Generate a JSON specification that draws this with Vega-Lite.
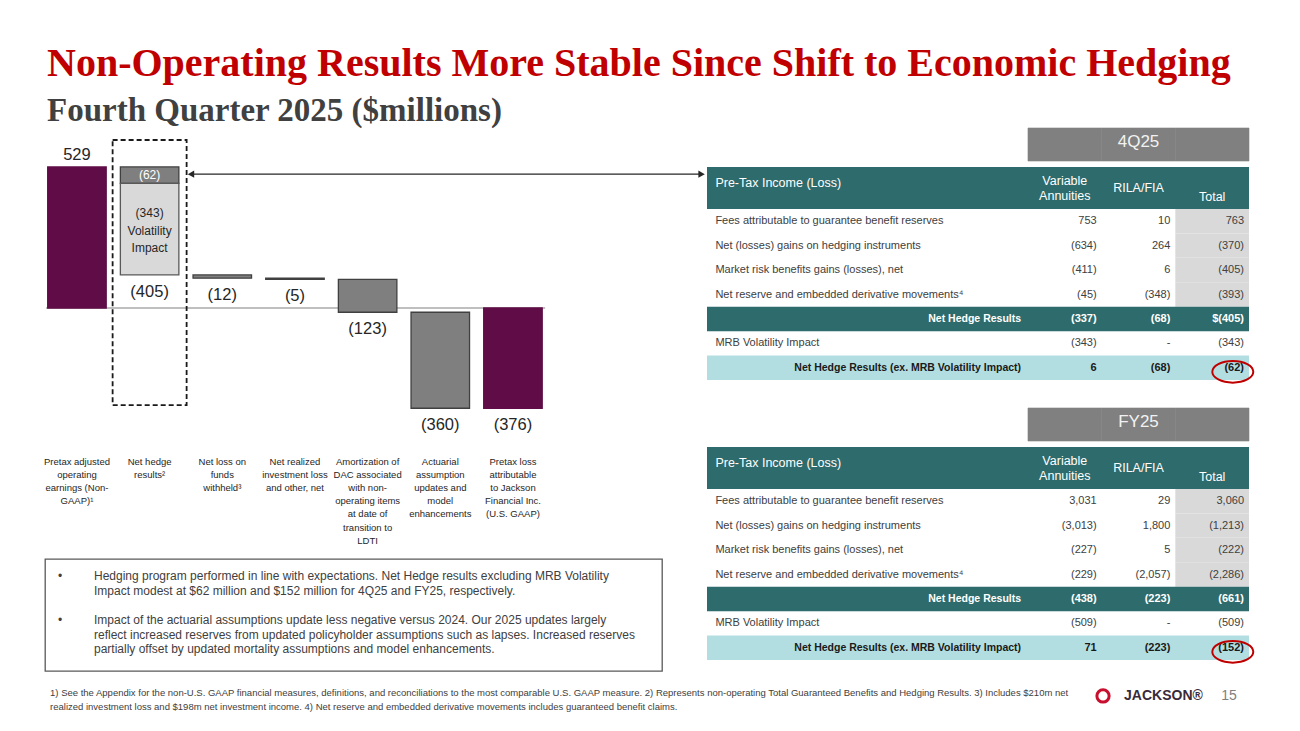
{
  "$schema": "https://vega.github.io/schema/vega-lite/v6.json",
  "background": "white",
  "padding": {"top": 43, "left": 43, "right": 5, "bottom": 5},
  "title": {
    "text": "Non-Operating Results More Stable Since Shift to Economic Hedging",
    "subtitle": "Fourth Quarter 2025 ($millions)",
    "anchor": "start", "frame": "group", "dx": 2, "offset": 0,
    "font": "Liberation Serif", "fontSize": 40, "fontWeight": "bold", "color": "#c00000",
    "subtitleFont": "Liberation Serif", "subtitleFontSize": 33, "subtitleFontWeight": "bold",
    "subtitleColor": "#404040", "subtitlePadding": 11
  },
  "config": {"view": {"stroke": null}},
  "datasets": {
    "waterfall": [
      {"step": "Pretax adjusted|operating|earnings (Non-|GAAP)¹", "lo": 0, "hi": 529, "kind": "total", "above": "529"},
      {"step": "Net hedge|results²", "lo": 467, "hi": 529, "kind": "core", "inside": "(62)"},
      {"step": "Net hedge|results²", "lo": 124, "hi": 467, "kind": "volatility", "inside": "(343)|Volatility|Impact", "below": "(405)"},
      {"step": "Net loss on|funds|withheld³", "lo": 112, "hi": 124, "kind": "change", "below": "(12)"},
      {"step": "Net realized|investment loss|and other, net", "lo": 107, "hi": 112, "kind": "change", "below": "(5)"},
      {"step": "Amortization of|DAC associated|with non-|operating items|at date of|transition to|LDTI", "lo": -16, "hi": 107, "kind": "change", "below": "(123)"},
      {"step": "Actuarial|assumption|updates and|model|enhancements", "lo": -376, "hi": -16, "kind": "change", "below": "(360)"},
      {"step": "Pretax loss|attributable|to Jackson|Financial Inc.|(U.S. GAAP)", "lo": -376, "hi": 0, "kind": "total", "below": "(376)"}
    ],
    "notes": [
      {"line": "1", "bullet": "•", "text": "Hedging program performed in line with expectations.  Net Hedge results excluding MRB Volatility"},
      {"line": "2", "text": "Impact modest at $62 million and $152 million for 4Q25 and FY25, respectively."},
      {"line": "4", "bullet": "•", "text": "Impact of the actuarial assumptions update less negative versus 2024.  Our 2025 updates largely"},
      {"line": "5", "text": "reflect increased reserves from updated policyholder assumptions such as lapses.  Increased reserves"},
      {"line": "6", "text": "partially offset by updated mortality assumptions and model enhancements."}
    ],
    "periods": [
      {"period": "4Q25", "col": "VA"}, {"period": "4Q25", "col": "RILA"}, {"period": "4Q25", "col": "Total"},
      {"period": "FY25", "col": "VA"}, {"period": "FY25", "col": "RILA"}, {"period": "FY25", "col": "Total"}
    ],
    "tableHeader": [
      {"col": "L1", "text": "Pre-Tax Income (Loss)"},
      {"col": "VA", "text": "Variable|Annuities"},
      {"col": "RILA", "text": "RILA/FIA"},
      {"col": "Total", "text": "Total"}
    ],
    "hedge": [
      {"period": "4Q25", "row": "r1", "kind": "item", "label": "Fees attributable to guarantee benefit reserves", "VA": "753", "RILA": "10", "Total": "763"},
      {"period": "4Q25", "row": "r2", "kind": "item", "label": "Net (losses) gains on hedging instruments", "VA": "(634)", "RILA": "264", "Total": "(370)"},
      {"period": "4Q25", "row": "r3", "kind": "item", "label": "Market risk benefits gains (losses), net", "VA": "(411)", "RILA": "6", "Total": "(405)"},
      {"period": "4Q25", "row": "r4", "kind": "item", "label": "Net reserve and embedded derivative movements⁴", "VA": "(45)", "RILA": "(348)", "Total": "(393)"},
      {"period": "4Q25", "row": "r5", "kind": "subtotal", "label": "Net Hedge Results", "VA": "(337)", "RILA": "(68)", "Total": "$(405)"},
      {"period": "4Q25", "row": "r6", "kind": "plain", "label": "MRB Volatility Impact", "VA": "(343)", "RILA": "-", "Total": "(343)"},
      {"period": "4Q25", "row": "r7", "kind": "result", "label": "Net Hedge Results (ex. MRB Volatility Impact)", "VA": "6", "RILA": "(68)", "Total": "(62)"},
      {"period": "FY25", "row": "r1", "kind": "item", "label": "Fees attributable to guarantee benefit reserves", "VA": "3,031", "RILA": "29", "Total": "3,060"},
      {"period": "FY25", "row": "r2", "kind": "item", "label": "Net (losses) gains on hedging instruments", "VA": "(3,013)", "RILA": "1,800", "Total": "(1,213)"},
      {"period": "FY25", "row": "r3", "kind": "item", "label": "Market risk benefits gains (losses), net", "VA": "(227)", "RILA": "5", "Total": "(222)"},
      {"period": "FY25", "row": "r4", "kind": "item", "label": "Net reserve and embedded derivative movements⁴", "VA": "(229)", "RILA": "(2,057)", "Total": "(2,286)"},
      {"period": "FY25", "row": "r5", "kind": "subtotal", "label": "Net Hedge Results", "VA": "(438)", "RILA": "(223)", "Total": "(661)"},
      {"period": "FY25", "row": "r6", "kind": "plain", "label": "MRB Volatility Impact", "VA": "(509)", "RILA": "-", "Total": "(509)"},
      {"period": "FY25", "row": "r7", "kind": "result", "label": "Net Hedge Results (ex. MRB Volatility Impact)", "VA": "71", "RILA": "(223)", "Total": "(152)"}
    ],
    "footer": [
      {"part": "note", "slot": "fn", "line": "1", "text": "1) See the Appendix for the non-U.S. GAAP financial measures, definitions, and reconciliations to the most comparable U.S. GAAP measure. 2) Represents non-operating Total Guaranteed Benefits and Hedging Results. 3) Includes $210m net"},
      {"part": "note", "slot": "fn", "line": "2", "text": "realized investment loss and $198m net investment income.  4) Net reserve and embedded derivative movements includes guaranteed benefit claims."},
      {"part": "brand", "slot": "logo", "line": "1", "text": "JACKSON®"},
      {"part": "page", "slot": "page", "line": "1", "text": "15"}
    ]
  },
  "spacing": 11,
  "vconcat": [
    {
      "spacing": 0,
      "hconcat": [
        {
          "spacing": 13,
          "vconcat": [
            {
              "width": 662, "height": 288,
              "data": {"name": "waterfall"},
              "encoding": {
                "x": {
                  "field": "step", "type": "nominal", "sort": null, "title": null,
                  "scale": {
                    "type": "band",
                    "domain": ["Pretax adjusted|operating|earnings (Non-|GAAP)¹", "Net hedge|results²", "Net loss on|funds|withheld³", "Net realized|investment loss|and other, net", "Amortization of|DAC associated|with non-|operating items|at date of|transition to|LDTI", "Actuarial|assumption|updates and|model|enhancements", "Pretax loss|attributable|to Jackson|Financial Inc.|(U.S. GAAP)", "_a", "_b"],
                    "paddingInner": 0.195, "paddingOuter": 0.1525, "align": 0.122
                  },
                  "axis": {
                    "orient": "bottom", "domain": false, "ticks": false, "grid": false,
                    "labelPadding": 40, "labelFont": "Liberation Sans",
                    "labelFontSize": 9.5, "labelColor": "#262626", "labelLineHeight": 13.2,
                    "labelAngle": 0, "labelOverlap": false, "labelLimit": 0, "labelBaseline": "top",
                    "labelExpr": "indexof(datum.value, '_') == 0 ? '' : split(datum.value, '|')"
                  }
                }
              },
              "layer": [
                {
                  "data": {"values": [{"ref": "zero line"}]},
                  "mark": {"type": "rule", "color": "#bfbfbf", "strokeWidth": 2},
                  "encoding": {
                    "x": {"datum": "Pretax adjusted|operating|earnings (Non-|GAAP)¹", "bandPosition": -0.03, "title": null},
                    "x2": {"datum": "Pretax loss|attributable|to Jackson|Financial Inc.|(U.S. GAAP)", "bandPosition": 1.05},
                    "y": {"datum": 0, "axis": null, "title": null}
                  }
                },
                {
                  "mark": {"type": "bar", "strokeWidth": 1.3},
                  "encoding": {
                    "y": {"field": "hi", "type": "quantitative", "scale": {"domain": [-405, 675], "nice": false, "zero": false}, "axis": null, "title": null},
                    "y2": {"field": "lo"},
                    "fill": {"field": "kind", "type": "nominal", "scale": {"domain": ["total", "core", "volatility", "change"], "range": ["#600c47", "#7f7f7f", "#d9d9d9", "#7f7f7f"]}, "legend": null},
                    "stroke": {"field": "kind", "type": "nominal", "scale": {"domain": ["total", "core", "volatility", "change"], "range": ["#600c47", "#404040", "#595959", "#404040"]}, "legend": null}
                  }
                },
                {
                  "data": {"values": [{"ref": "net hedge breakdown"}]},
                  "mark": {"type": "rect", "fill": "transparent", "stroke": "#1a1a1a", "strokeWidth": 1.8, "strokeDash": [5, 3], "width": {"band": 1.265}},
                  "encoding": {
                    "x": {"datum": "Net hedge|results²", "title": null},
                    "y": {"datum": 630, "axis": null, "title": null},
                    "y2": {"datum": -364}
                  }
                },
                {
                  "data": {"values": [{"ref": "arrow"}]},
                  "mark": {"type": "rule", "color": "#262626", "strokeWidth": 1.2},
                  "encoding": {
                    "x": {"datum": "Net hedge|results²", "bandPosition": 1.224, "title": null},
                    "x2": {"datum": "_b", "bandPosition": 1.214},
                    "y": {"datum": 502, "axis": null, "title": null}
                  }
                },
                {
                  "data": {"values": [{"ref": "arrow"}]},
                  "mark": {"type": "point", "shape": "triangle-left", "filled": true, "color": "#262626", "size": 55, "opacity": 1},
                  "encoding": {
                    "x": {"datum": "Net hedge|results²", "bandPosition": 1.207, "title": null},
                    "y": {"datum": 502, "axis": null, "title": null}
                  }
                },
                {
                  "data": {"values": [{"ref": "arrow"}]},
                  "mark": {"type": "point", "shape": "triangle-right", "filled": true, "color": "#262626", "size": 55, "opacity": 1},
                  "encoding": {
                    "x": {"datum": "_b", "bandPosition": 1.24, "title": null},
                    "y": {"datum": 502, "axis": null, "title": null}
                  }
                },
                {
                  "transform": [{"filter": "datum.above"}],
                  "mark": {"type": "text", "font": "Liberation Sans", "fontSize": 16.5, "color": "#262626", "baseline": "middle", "dy": -12},
                  "encoding": {"y": {"field": "hi", "type": "quantitative", "axis": null}, "text": {"field": "above", "type": "nominal"}}
                },
                {
                  "transform": [{"filter": "datum.below"}],
                  "mark": {"type": "text", "font": "Liberation Sans", "fontSize": 16.5, "color": "#262626", "baseline": "middle", "dy": 17},
                  "encoding": {"y": {"field": "lo", "type": "quantitative", "axis": null}, "text": {"field": "below", "type": "nominal"}}
                },
                {
                  "transform": [{"filter": "datum.kind == 'core'"}],
                  "mark": {"type": "text", "font": "Liberation Sans", "fontSize": 12, "color": "white", "baseline": "middle", "dy": 8},
                  "encoding": {"y": {"field": "hi", "type": "quantitative", "axis": null}, "text": {"field": "inside", "type": "nominal"}}
                },
                {
                  "transform": [{"filter": "datum.kind == 'volatility'"}],
                  "mark": {"type": "text", "font": "Liberation Sans", "fontSize": 12, "color": "#262626", "baseline": "top", "dy": 25, "lineBreak": "|", "lineHeight": 17.5},
                  "encoding": {"y": {"field": "hi", "type": "quantitative", "axis": null}, "text": {"field": "inside", "type": "nominal"}}
                }
              ]
            },
            {
              "width": 617, "height": 112,
              "view": {"stroke": "#595959", "strokeWidth": 1.3},
              "data": {"name": "notes"},
              "encoding": {
                "y": {"field": "line", "type": "ordinal", "scale": {"type": "point", "domain": ["t0", "1", "2", "3", "4", "5", "6", "t7"], "padding": 0.31, "align": 0.25}, "axis": null, "title": null}
              },
              "layer": [
                {
                  "transform": [{"filter": "datum.bullet"}],
                  "mark": {"type": "text", "font": "Liberation Sans", "fontSize": 12, "color": "#404040"},
                  "encoding": {
                    "x": {"datum": "bullet", "bandPosition": 0.4376, "scale": {"type": "band", "domain": ["bullet", "text", "n3", "n4", "n5", "n6", "n7", "n8", "n9", "n10", "n11", "n12", "n13", "n14", "n15", "n16", "n17", "n18"], "paddingInner": 0, "paddingOuter": 0}, "axis": null, "title": null},
                    "text": {"field": "bullet", "type": "nominal"}
                  }
                },
                {
                  "mark": {"type": "text", "align": "left", "font": "Liberation Sans", "fontSize": 12, "color": "#404040"},
                  "encoding": {
                    "x": {"datum": "text", "bandPosition": 0.429, "scale": {"type": "band", "domain": ["bullet", "text", "n3", "n4", "n5", "n6", "n7", "n8", "n9", "n10", "n11", "n12", "n13", "n14", "n15", "n16", "n17", "n18"], "paddingInner": 0, "paddingOuter": 0}, "axis": null, "title": null},
                    "text": {"field": "text", "type": "nominal"}
                  }
                }
              ]
            }
          ]
        },
        {
          "spacing": 20,
          "vconcat": [
            {
              "spacing": 5,
              "vconcat": [
                {
                  "width": 542, "height": 33,
                  "data": {"name": "periods"},
                  "transform": [{"filter": "datum.period == '4Q25'"}],
                  "layer": [
                    {
                      "mark": {"type": "rect", "color": "#808080", "stroke": "#808080", "strokeWidth": 0.6},
                      "encoding": {"x": {"field": "col", "type": "nominal", "scale": {"type": "band", "domain": ["L1", "L2", "L3", "L4", "VA", "RILA", "Total"], "paddingInner": 0, "paddingOuter": 0.1786, "align": 1}, "axis": null, "title": null}}
                    },
                    {
                      "transform": [{"filter": "datum.col == 'RILA'"}],
                      "mark": {"type": "text", "font": "Liberation Sans", "fontSize": 17, "color": "#f2f2f2", "dy": -3},
                      "encoding": {
                        "x": {"field": "col", "type": "nominal", "scale": {"type": "band", "domain": ["L1", "L2", "L3", "L4", "VA", "RILA", "Total"], "paddingInner": 0, "paddingOuter": 0.1786, "align": 1}, "axis": null, "title": null},
                        "text": {"field": "period", "type": "nominal"}
                      }
                    }
                  ]
                },
                {
                  "spacing": 0,
                  "vconcat": [
                    {
                      "width": 542, "height": 42,
                      "view": {"fill": "#2e6b6c"},
                      "data": {"name": "tableHeader"},
                      "layer": [
                        {
                          "transform": [{"filter": "datum.col == 'L1'"}],
                          "mark": {"type": "text", "align": "left", "font": "Liberation Sans", "fontSize": 12.5, "color": "white", "dx": -18, "dy": -5},
                          "encoding": {
                            "x": {"datum": "L1", "bandPosition": 0.001, "scale": {"type": "band", "domain": ["L1", "L2", "L3", "L4", "VA", "RILA", "Total"], "paddingInner": 0, "paddingOuter": 0.1786, "align": 1}, "axis": null, "title": null},
                            "text": {"field": "text", "type": "nominal"}
                          }
                        },
                        {
                          "transform": [{"filter": "datum.col == 'VA'"}],
                          "mark": {"type": "text", "font": "Liberation Sans", "fontSize": 12.5, "color": "white", "lineBreak": "|", "lineHeight": 15, "dy": -7},
                          "encoding": {
                            "x": {"datum": "VA", "bandPosition": 0.5, "scale": {"type": "band", "domain": ["L1", "L2", "L3", "L4", "VA", "RILA", "Total"], "paddingInner": 0, "paddingOuter": 0.1786, "align": 1}, "axis": null, "title": null},
                            "text": {"field": "text", "type": "nominal"}
                          }
                        },
                        {
                          "transform": [{"filter": "datum.col == 'RILA'"}],
                          "mark": {"type": "text", "font": "Liberation Sans", "fontSize": 12.5, "color": "white"},
                          "encoding": {
                            "x": {"datum": "RILA", "bandPosition": 0.5, "scale": {"type": "band", "domain": ["L1", "L2", "L3", "L4", "VA", "RILA", "Total"], "paddingInner": 0, "paddingOuter": 0.1786, "align": 1}, "axis": null, "title": null},
                            "text": {"field": "text", "type": "nominal"}
                          }
                        },
                        {
                          "transform": [{"filter": "datum.col == 'Total'"}],
                          "mark": {"type": "text", "font": "Liberation Sans", "fontSize": 12.5, "color": "white", "dy": 9},
                          "encoding": {
                            "x": {"datum": "Total", "bandPosition": 0.5, "scale": {"type": "band", "domain": ["L1", "L2", "L3", "L4", "VA", "RILA", "Total"], "paddingInner": 0, "paddingOuter": 0.1786, "align": 1}, "axis": null, "title": null},
                            "text": {"field": "text", "type": "nominal"}
                          }
                        }
                      ]
                    },
                    {
                      "width": 542, "height": 171,
                      "data": {"name": "hedge"},
                      "transform": [{"filter": "datum.period == '4Q25'"}],
                      "encoding": {
                        "y": {"field": "row", "type": "nominal", "scale": {"type": "band", "domain": ["r1", "r2", "r3", "r4", "r5", "r6", "r7"], "paddingInner": 0, "paddingOuter": 0}, "axis": null, "title": null}
                      },
                      "layer": [
                        {
                          "transform": [{"filter": "datum.kind == 'item'"}],
                          "mark": {"type": "rect", "color": "#d9d9d9"},
                          "encoding": {"x": {"datum": "Total", "scale": {"type": "band", "domain": ["L1", "L2", "L3", "L4", "VA", "RILA", "Total"], "paddingInner": 0, "paddingOuter": 0.1786, "align": 1}, "axis": null, "title": null}}
                        },
                        {
                          "transform": [{"filter": "datum.kind == 'subtotal'"}],
                          "mark": {"type": "rect", "color": "#2e6b6c"}
                        },
                        {
                          "transform": [{"filter": "datum.kind == 'result'"}],
                          "mark": {"type": "rect", "color": "#b3dee1"}
                        },
                        {
                          "transform": [{"filter": "datum.kind == 'item' || datum.kind == 'plain'"}],
                          "mark": {"type": "text", "align": "left", "font": "Liberation Sans", "fontSize": 11, "color": "#404040", "dx": -18},
                          "encoding": {
                            "x": {"datum": "L1", "bandPosition": 0.001, "scale": {"type": "band", "domain": ["L1", "L2", "L3", "L4", "VA", "RILA", "Total"], "paddingInner": 0, "paddingOuter": 0.1786, "align": 1}, "axis": null, "title": null},
                            "text": {"field": "label", "type": "nominal"}
                          }
                        },
                        {
                          "transform": [{"filter": "datum.kind == 'subtotal'"}],
                          "mark": {"type": "text", "align": "right", "font": "Liberation Sans", "fontSize": 10.5, "fontWeight": "bold", "color": "white", "dx": -7},
                          "encoding": {
                            "x": {"datum": "VA", "bandPosition": 0.001, "scale": {"type": "band", "domain": ["L1", "L2", "L3", "L4", "VA", "RILA", "Total"], "paddingInner": 0, "paddingOuter": 0.1786, "align": 1}, "axis": null, "title": null},
                            "text": {"field": "label", "type": "nominal"}
                          }
                        },
                        {
                          "transform": [{"filter": "datum.kind == 'result'"}],
                          "mark": {"type": "text", "align": "right", "font": "Liberation Sans", "fontSize": 10.5, "fontWeight": "bold", "color": "#1a1a1a", "dx": -7},
                          "encoding": {
                            "x": {"datum": "VA", "bandPosition": 0.001, "scale": {"type": "band", "domain": ["L1", "L2", "L3", "L4", "VA", "RILA", "Total"], "paddingInner": 0, "paddingOuter": 0.1786, "align": 1}, "axis": null, "title": null},
                            "text": {"field": "label", "type": "nominal"}
                          }
                        },
                        {
                          "transform": [{"filter": "datum.kind == 'item' || datum.kind == 'plain'"}, {"fold": ["VA", "RILA", "Total"], "as": ["col", "val"]}],
                          "mark": {"type": "text", "align": "right", "font": "Liberation Sans", "fontSize": 11, "color": "#404040", "dx": -5},
                          "encoding": {
                            "x": {"field": "col", "type": "nominal", "bandPosition": 1, "scale": {"type": "band", "domain": ["L1", "L2", "L3", "L4", "VA", "RILA", "Total"], "paddingInner": 0, "paddingOuter": 0.1786, "align": 1}, "axis": null, "title": null},
                            "text": {"field": "val", "type": "nominal"}
                          }
                        },
                        {
                          "transform": [{"filter": "datum.kind == 'subtotal'"}, {"fold": ["VA", "RILA", "Total"], "as": ["col", "val"]}],
                          "mark": {"type": "text", "align": "right", "font": "Liberation Sans", "fontSize": 11, "fontWeight": "bold", "color": "white", "dx": -5},
                          "encoding": {
                            "x": {"field": "col", "type": "nominal", "bandPosition": 1, "scale": {"type": "band", "domain": ["L1", "L2", "L3", "L4", "VA", "RILA", "Total"], "paddingInner": 0, "paddingOuter": 0.1786, "align": 1}, "axis": null, "title": null},
                            "text": {"field": "val", "type": "nominal"}
                          }
                        },
                        {
                          "transform": [{"filter": "datum.kind == 'result'"}, {"fold": ["VA", "RILA", "Total"], "as": ["col", "val"]}],
                          "mark": {"type": "text", "align": "right", "font": "Liberation Sans", "fontSize": 11, "fontWeight": "bold", "color": "#1a1a1a", "dx": -5},
                          "encoding": {
                            "x": {"field": "col", "type": "nominal", "bandPosition": 1, "scale": {"type": "band", "domain": ["L1", "L2", "L3", "L4", "VA", "RILA", "Total"], "paddingInner": 0, "paddingOuter": 0.1786, "align": 1}, "axis": null, "title": null},
                            "text": {"field": "val", "type": "nominal"}
                          }
                        },
                        {
                          "transform": [{"filter": "datum.kind == 'result'"}],
                          "mark": {"type": "point", "shape": "M-1,0A1,0.53,0,1,1,1,0A1,0.53,0,1,1,-1,0Z", "size": 1681, "filled": false, "stroke": "#c00000", "strokeWidth": 2, "opacity": 1, "yOffset": 4},
                          "encoding": {
                            "x": {"datum": "Total", "bandPosition": 0.78, "scale": {"type": "band", "domain": ["L1", "L2", "L3", "L4", "VA", "RILA", "Total"], "paddingInner": 0, "paddingOuter": 0.1786, "align": 1}, "axis": null, "title": null}
                          }
                        }
                      ]
                    }
                  ]
                }
              ]
            },
            {
              "spacing": 5,
              "vconcat": [
                {
                  "width": 542, "height": 33,
                  "data": {"name": "periods"},
                  "transform": [{"filter": "datum.period == 'FY25'"}],
                  "layer": [
                    {
                      "mark": {"type": "rect", "color": "#808080", "stroke": "#808080", "strokeWidth": 0.6},
                      "encoding": {"x": {"field": "col", "type": "nominal", "scale": {"type": "band", "domain": ["L1", "L2", "L3", "L4", "VA", "RILA", "Total"], "paddingInner": 0, "paddingOuter": 0.1786, "align": 1}, "axis": null, "title": null}}
                    },
                    {
                      "transform": [{"filter": "datum.col == 'RILA'"}],
                      "mark": {"type": "text", "font": "Liberation Sans", "fontSize": 17, "color": "#f2f2f2", "dy": -3},
                      "encoding": {
                        "x": {"field": "col", "type": "nominal", "scale": {"type": "band", "domain": ["L1", "L2", "L3", "L4", "VA", "RILA", "Total"], "paddingInner": 0, "paddingOuter": 0.1786, "align": 1}, "axis": null, "title": null},
                        "text": {"field": "period", "type": "nominal"}
                      }
                    }
                  ]
                },
                {
                  "spacing": 0,
                  "vconcat": [
                    {
                      "width": 542, "height": 42,
                      "view": {"fill": "#2e6b6c"},
                      "data": {"name": "tableHeader"},
                      "layer": [
                        {
                          "transform": [{"filter": "datum.col == 'L1'"}],
                          "mark": {"type": "text", "align": "left", "font": "Liberation Sans", "fontSize": 12.5, "color": "white", "dx": -18, "dy": -5},
                          "encoding": {
                            "x": {"datum": "L1", "bandPosition": 0.001, "scale": {"type": "band", "domain": ["L1", "L2", "L3", "L4", "VA", "RILA", "Total"], "paddingInner": 0, "paddingOuter": 0.1786, "align": 1}, "axis": null, "title": null},
                            "text": {"field": "text", "type": "nominal"}
                          }
                        },
                        {
                          "transform": [{"filter": "datum.col == 'VA'"}],
                          "mark": {"type": "text", "font": "Liberation Sans", "fontSize": 12.5, "color": "white", "lineBreak": "|", "lineHeight": 15, "dy": -7},
                          "encoding": {
                            "x": {"datum": "VA", "bandPosition": 0.5, "scale": {"type": "band", "domain": ["L1", "L2", "L3", "L4", "VA", "RILA", "Total"], "paddingInner": 0, "paddingOuter": 0.1786, "align": 1}, "axis": null, "title": null},
                            "text": {"field": "text", "type": "nominal"}
                          }
                        },
                        {
                          "transform": [{"filter": "datum.col == 'RILA'"}],
                          "mark": {"type": "text", "font": "Liberation Sans", "fontSize": 12.5, "color": "white"},
                          "encoding": {
                            "x": {"datum": "RILA", "bandPosition": 0.5, "scale": {"type": "band", "domain": ["L1", "L2", "L3", "L4", "VA", "RILA", "Total"], "paddingInner": 0, "paddingOuter": 0.1786, "align": 1}, "axis": null, "title": null},
                            "text": {"field": "text", "type": "nominal"}
                          }
                        },
                        {
                          "transform": [{"filter": "datum.col == 'Total'"}],
                          "mark": {"type": "text", "font": "Liberation Sans", "fontSize": 12.5, "color": "white", "dy": 9},
                          "encoding": {
                            "x": {"datum": "Total", "bandPosition": 0.5, "scale": {"type": "band", "domain": ["L1", "L2", "L3", "L4", "VA", "RILA", "Total"], "paddingInner": 0, "paddingOuter": 0.1786, "align": 1}, "axis": null, "title": null},
                            "text": {"field": "text", "type": "nominal"}
                          }
                        }
                      ]
                    },
                    {
                      "width": 542, "height": 171,
                      "data": {"name": "hedge"},
                      "transform": [{"filter": "datum.period == 'FY25'"}],
                      "encoding": {
                        "y": {"field": "row", "type": "nominal", "scale": {"type": "band", "domain": ["r1", "r2", "r3", "r4", "r5", "r6", "r7"], "paddingInner": 0, "paddingOuter": 0}, "axis": null, "title": null}
                      },
                      "layer": [
                        {
                          "transform": [{"filter": "datum.kind == 'item'"}],
                          "mark": {"type": "rect", "color": "#d9d9d9"},
                          "encoding": {"x": {"datum": "Total", "scale": {"type": "band", "domain": ["L1", "L2", "L3", "L4", "VA", "RILA", "Total"], "paddingInner": 0, "paddingOuter": 0.1786, "align": 1}, "axis": null, "title": null}}
                        },
                        {
                          "transform": [{"filter": "datum.kind == 'subtotal'"}],
                          "mark": {"type": "rect", "color": "#2e6b6c"}
                        },
                        {
                          "transform": [{"filter": "datum.kind == 'result'"}],
                          "mark": {"type": "rect", "color": "#b3dee1"}
                        },
                        {
                          "transform": [{"filter": "datum.kind == 'item' || datum.kind == 'plain'"}],
                          "mark": {"type": "text", "align": "left", "font": "Liberation Sans", "fontSize": 11, "color": "#404040", "dx": -18},
                          "encoding": {
                            "x": {"datum": "L1", "bandPosition": 0.001, "scale": {"type": "band", "domain": ["L1", "L2", "L3", "L4", "VA", "RILA", "Total"], "paddingInner": 0, "paddingOuter": 0.1786, "align": 1}, "axis": null, "title": null},
                            "text": {"field": "label", "type": "nominal"}
                          }
                        },
                        {
                          "transform": [{"filter": "datum.kind == 'subtotal'"}],
                          "mark": {"type": "text", "align": "right", "font": "Liberation Sans", "fontSize": 10.5, "fontWeight": "bold", "color": "white", "dx": -7},
                          "encoding": {
                            "x": {"datum": "VA", "bandPosition": 0.001, "scale": {"type": "band", "domain": ["L1", "L2", "L3", "L4", "VA", "RILA", "Total"], "paddingInner": 0, "paddingOuter": 0.1786, "align": 1}, "axis": null, "title": null},
                            "text": {"field": "label", "type": "nominal"}
                          }
                        },
                        {
                          "transform": [{"filter": "datum.kind == 'result'"}],
                          "mark": {"type": "text", "align": "right", "font": "Liberation Sans", "fontSize": 10.5, "fontWeight": "bold", "color": "#1a1a1a", "dx": -7},
                          "encoding": {
                            "x": {"datum": "VA", "bandPosition": 0.001, "scale": {"type": "band", "domain": ["L1", "L2", "L3", "L4", "VA", "RILA", "Total"], "paddingInner": 0, "paddingOuter": 0.1786, "align": 1}, "axis": null, "title": null},
                            "text": {"field": "label", "type": "nominal"}
                          }
                        },
                        {
                          "transform": [{"filter": "datum.kind == 'item' || datum.kind == 'plain'"}, {"fold": ["VA", "RILA", "Total"], "as": ["col", "val"]}],
                          "mark": {"type": "text", "align": "right", "font": "Liberation Sans", "fontSize": 11, "color": "#404040", "dx": -5},
                          "encoding": {
                            "x": {"field": "col", "type": "nominal", "bandPosition": 1, "scale": {"type": "band", "domain": ["L1", "L2", "L3", "L4", "VA", "RILA", "Total"], "paddingInner": 0, "paddingOuter": 0.1786, "align": 1}, "axis": null, "title": null},
                            "text": {"field": "val", "type": "nominal"}
                          }
                        },
                        {
                          "transform": [{"filter": "datum.kind == 'subtotal'"}, {"fold": ["VA", "RILA", "Total"], "as": ["col", "val"]}],
                          "mark": {"type": "text", "align": "right", "font": "Liberation Sans", "fontSize": 11, "fontWeight": "bold", "color": "white", "dx": -5},
                          "encoding": {
                            "x": {"field": "col", "type": "nominal", "bandPosition": 1, "scale": {"type": "band", "domain": ["L1", "L2", "L3", "L4", "VA", "RILA", "Total"], "paddingInner": 0, "paddingOuter": 0.1786, "align": 1}, "axis": null, "title": null},
                            "text": {"field": "val", "type": "nominal"}
                          }
                        },
                        {
                          "transform": [{"filter": "datum.kind == 'result'"}, {"fold": ["VA", "RILA", "Total"], "as": ["col", "val"]}],
                          "mark": {"type": "text", "align": "right", "font": "Liberation Sans", "fontSize": 11, "fontWeight": "bold", "color": "#1a1a1a", "dx": -5},
                          "encoding": {
                            "x": {"field": "col", "type": "nominal", "bandPosition": 1, "scale": {"type": "band", "domain": ["L1", "L2", "L3", "L4", "VA", "RILA", "Total"], "paddingInner": 0, "paddingOuter": 0.1786, "align": 1}, "axis": null, "title": null},
                            "text": {"field": "val", "type": "nominal"}
                          }
                        },
                        {
                          "transform": [{"filter": "datum.kind == 'result'"}],
                          "mark": {"type": "point", "shape": "M-1,0A1,0.53,0,1,1,1,0A1,0.53,0,1,1,-1,0Z", "size": 1681, "filled": false, "stroke": "#c00000", "strokeWidth": 2, "opacity": 1, "yOffset": 4},
                          "encoding": {
                            "x": {"datum": "Total", "bandPosition": 0.78, "scale": {"type": "band", "domain": ["L1", "L2", "L3", "L4", "VA", "RILA", "Total"], "paddingInner": 0, "paddingOuter": 0.1786, "align": 1}, "axis": null, "title": null}
                          }
                        }
                      ]
                    }
                  ]
                }
              ]
            }
          ]
        }
      ]
    },
    {
      "width": 1204, "height": 30,
      "data": {"name": "footer"},
      "encoding": {
        "y": {"field": "line", "type": "ordinal", "scale": {"type": "point", "domain": ["1", "2"], "padding": 0.571}, "axis": null, "title": null}
      },
      "layer": [
        {
          "transform": [{"filter": "datum.part == 'note'"}],
          "mark": {"type": "text", "align": "left", "font": "Liberation Sans", "fontSize": 9.5, "color": "#404040", "dx": 5},
          "encoding": {
            "x": {"datum": "fn", "bandPosition": 0.001, "scale": {"type": "band", "domain": ["fn", "s1", "s2", "s3", "s4", "s5", "s6", "s7", "s8", "s9", "s10", "s11", "s12", "s13", "s14", "s15", "s16", "s17", "s18", "s19", "s20", "logo", "s22", "page"], "paddingInner": 0, "paddingOuter": 0}, "axis": null, "title": null},
            "text": {"field": "text", "type": "nominal"}
          }
        },
        {
          "transform": [{"filter": "datum.part == 'brand'"}],
          "mark": {"type": "point", "shape": "circle", "size": 150, "filled": false, "stroke": "#c8102e", "strokeWidth": 3, "opacity": 1, "yOffset": 3},
          "encoding": {
            "x": {"datum": "logo", "bandPosition": 0.09, "scale": {"type": "band", "domain": ["fn", "s1", "s2", "s3", "s4", "s5", "s6", "s7", "s8", "s9", "s10", "s11", "s12", "s13", "s14", "s15", "s16", "s17", "s18", "s19", "s20", "logo", "s22", "page"], "paddingInner": 0, "paddingOuter": 0}, "axis": null, "title": null}
          }
        },
        {
          "transform": [{"filter": "datum.part == 'brand'"}],
          "mark": {"type": "text", "align": "left", "font": "Liberation Sans", "fontSize": 14, "fontWeight": "bold", "color": "#3a2a38", "dx": 25.5, "dy": 3},
          "encoding": {
            "x": {"datum": "logo", "bandPosition": 0.001, "scale": {"type": "band", "domain": ["fn", "s1", "s2", "s3", "s4", "s5", "s6", "s7", "s8", "s9", "s10", "s11", "s12", "s13", "s14", "s15", "s16", "s17", "s18", "s19", "s20", "logo", "s22", "page"], "paddingInner": 0, "paddingOuter": 0}, "axis": null, "title": null},
            "text": {"field": "text", "type": "nominal"}
          }
        },
        {
          "transform": [{"filter": "datum.part == 'page'"}],
          "mark": {"type": "text", "font": "Liberation Sans", "fontSize": 14, "color": "#808080", "dy": 3},
          "encoding": {
            "x": {"datum": "page", "bandPosition": 0.6, "scale": {"type": "band", "domain": ["fn", "s1", "s2", "s3", "s4", "s5", "s6", "s7", "s8", "s9", "s10", "s11", "s12", "s13", "s14", "s15", "s16", "s17", "s18", "s19", "s20", "logo", "s22", "page"], "paddingInner": 0, "paddingOuter": 0}, "axis": null, "title": null},
            "text": {"field": "text", "type": "nominal"}
          }
        }
      ]
    }
  ]
}
